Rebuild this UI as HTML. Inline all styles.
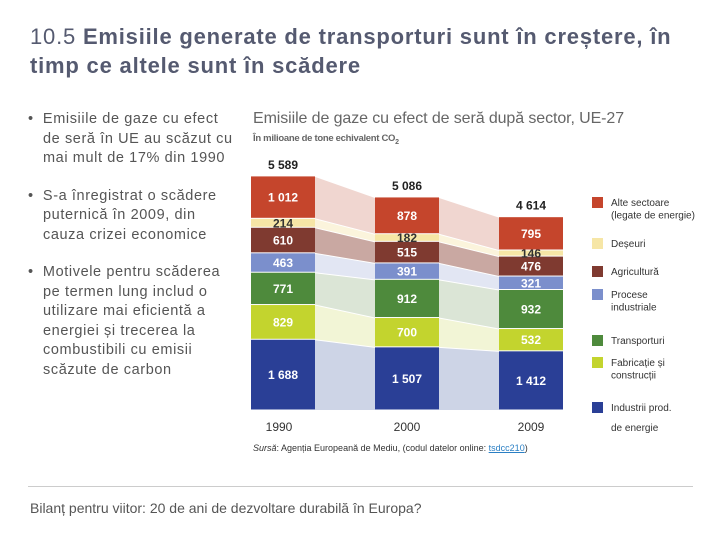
<!DOCTYPE html>
<html><head><meta charset="utf-8"><style>
body{margin:0;width:720px;height:540px;background:#fff;font-family:"Liberation Sans",sans-serif;position:relative;overflow:hidden}
.a{position:absolute;margin:0}
.b{padding-left:15px;text-indent:-15px;white-space:nowrap}
</style></head><body>
<div class="a" style="left:30px;top:22px;font-size:22px;line-height:29px;color:#555a70;white-space:nowrap;letter-spacing:0.8px">10.5 <b>Emisiile generate de transporturi sunt în creștere, în<br>timp ce altele sunt în scădere</b></div>
<div class="a" style="left:28px;top:110px;font-size:14.5px;line-height:19.5px;color:#555;letter-spacing:0.6px">
<div class="b">•&nbsp; Emisiile de gaze cu efect<br>de seră în UE au scăzut cu<br>mai mult de 17% din 1990</div>
<div class="b" style="margin-top:18px">•&nbsp; S-a înregistrat o scădere<br>puternică în 2009, din<br>cauza crizei economice</div>
<div class="b" style="margin-top:18px">•&nbsp; Motivele pentru scăderea<br>pe termen lung includ o<br>utilizare mai eficientă a<br>energiei și trecerea la<br>combustibili cu emisii<br>scăzute de carbon</div>
</div>
<div class="a" style="left:253px;top:110px;font-size:16px;color:#666;letter-spacing:-0.1px">Emisiile de gaze cu efect de seră după sector, UE-27</div>
<div class="a" style="left:253px;top:133px;font-size:9.5px;font-weight:bold;color:#666;letter-spacing:-0.3px">În milioane de tone echivalent CO<sub style="font-size:7px">2</sub></div>
<svg class="a" style="left:0;top:0" width="720" height="540" id="chart"></svg>
<div class="a" style="left:253px;top:443px;font-size:9px;color:#333"><i>Sursă</i>: Agenția Europeană de Mediu, (codul datelor online: <span style="color:#2a7fc4;text-decoration:underline">tsdcc210</span>)</div>
<div class="a" style="left:28px;top:486px;width:665px;height:1px;background:#ccc"></div>
<div class="a" style="left:30px;top:500px;font-size:14px;color:#555">Bilanț pentru viitor: 20 de ani de dezvoltare durabilă în Europa?</div>
<script>
const years=["1990","2000","2009"];
const totals=[5589,5086,4614];
const energy=[1688,1507,1412];
const manufacturing=[829,700,532];
const transport=[771,912,932];
const industrial=[463,391,321];
const agriculture=[610,515,476];
const waste=[214,182,146];
const other=[1012,878,795];
const series=[energy,manufacturing,transport,industrial,agriculture,waste,other];
const colors=["#2a3f96","#c3d42e","#4e8a3c","#7b8fcc","#7f3a30","#f6e6a6","#c5452c"];
const bands=["#cdd4e6","#f2f5d6","#dbe5d6","#e2e6f3","#c9a8a2","#fbf4dc","#f0d6d0"];
const labelCol=["#fff","#fff","#fff","#fff","#fff","#333","#fff"];
const svg=document.getElementById('chart');const NS="http://www.w3.org/2000/svg";
const base=410,k=0.0419,barX=[251,375,499],bw=64;
const y=v=>base-v*k;
function mk(t,a){const e=document.createElementNS(NS,t);for(const n in a)e.setAttribute(n,a[n]);svg.appendChild(e);return e;}
const fmt=v=>v.toLocaleString('en').replace(',',' ');
const cum=years.map((_,i)=>{let c=[0];series.forEach(s=>c.push(c[c.length-1]+s[i]));return c;});
for(let i=0;i<years.length-1;i++){series.forEach((s,j)=>{
const p=mk('polygon',{points:`${barX[i]+bw},${y(cum[i][j])} ${barX[i]+bw},${y(cum[i][j+1])+1} ${barX[i+1]},${y(cum[i+1][j+1])+1} ${barX[i+1]},${y(cum[i+1][j])}`,fill:bands[j]});

});}
years.forEach((yr,i)=>{series.forEach((s,j)=>{
const r=mk('rect',{x:barX[i],y:y(cum[i][j+1])+0.5,width:bw,height:Math.max(0,s[i]*k-1),fill:colors[j]});


const t=mk('text',{x:barX[i]+bw/2,y:(y(cum[i][j])+y(cum[i][j+1]))/2+4.5,'text-anchor':'middle','font-size':12,'font-weight':'bold',fill:labelCol[j],'font-family':'Liberation Sans'});
t.textContent=fmt(s[i]);

});
const tot=cum[i][series.length];
const tl=mk('text',{x:barX[i]+bw/2,y:y(tot)-7,'text-anchor':'middle','font-size':12,'font-weight':'bold',fill:'#222','font-family':'Liberation Sans'});
tl.textContent=fmt(totals[i]);


const xl=mk('text',{x:barX[i]+bw/2-(i==0?4:0),y:431,'text-anchor':'middle','font-size':12,fill:'#333','font-family':'Liberation Sans'});
xl.textContent=yr;

});
const legY=[[199,["Alte sectoare","(legate de energie)"]],[240,["Deșeuri"]],[268,["Agricultură"]],[291,["Procese","industriale"]],[337,["Transporturi"]],[359,["Fabricație și","construcții"]],[404,["Industrii prod.","de energie"]]];
const legOrder=[6,5,4,3,2,1,0];
legY.forEach((l,n)=>{const j=legOrder[n];
const r=mk('rect',{x:592,y:l[0]-2,width:11,height:11,fill:colors[j]});


l[1].forEach((ln,m)=>{const t=mk('text',{x:611,y:l[0]+7+m*(n==6?20:12.5),'font-size':10,fill:'#333','font-family':'Liberation Sans'});t.textContent=ln;

});});
</script>
</body></html>
